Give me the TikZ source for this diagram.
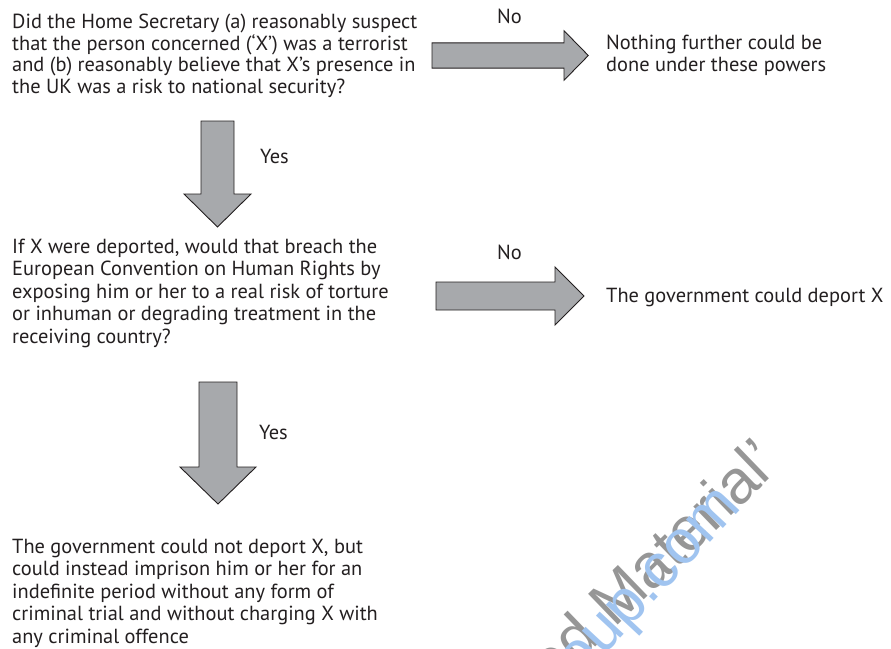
\documentclass[tikz,border=0pt]{standalone}
\usepackage{fontspec}
\setmainfont{PT Sans}
\newfontfamily\wmfont{Liberation Sans}
\definecolor{ink}{RGB}{35,31,32}
\definecolor{arrowfill}{RGB}{167,169,172}
\definecolor{wmgray}{RGB}{150,150,150}
\definecolor{wmblue}{RGB}{160,196,240}
\begin{document}
\begin{tikzpicture}[x=1pt,y=-1pt,
  txt/.style={inner sep=0pt, align=left, text=ink, anchor=base west,
    font=\fontsize{20.4}{22.2}\selectfont},
  blockarrow/.style={fill=arrowfill, draw=ink, line width=0.9pt, line join=miter},
  wm/.style={inner sep=0pt, anchor=base east}]
\useasboundingbox (0,0) rectangle (891,648);
\begin{scope}
\clip (0,0) rectangle (891,648);

% watermark
\node[wm, text=wmgray, rotate=44, font=\wmfont\fontsize{62}{62}\selectfont] (wm1) at (783,466) {Copyrighted Material’};
\node[wm, text=wmblue, rotate=47, font=\wmfont\fontsize{62}{62}\selectfont] (wm2) at (742.6,507.2) {www.oup.com};

% questions and outcomes (anchor = baseline of last line)
\node[txt, font=\fontsize{20.4}{21.6}\selectfont] (q1) at (12,93.3) {Did the Home Secretary (a) reasonably suspect\\that the person concerned (‘X’) was a terrorist\\and (b) reasonably believe that X’s presence in\\the UK was a risk to national security?};
\node[txt] (r1) at (606,71.7) {Nothing further could be\\done under these powers};
\node[txt, font=\fontsize{20.4}{22.4}\selectfont] (q2) at (12,343) {If X were deported, would that breach the\\European Convention on Human Rights by\\exposing him or her to a real risk of torture\\or inhuman or degrading treatment in the\\receiving country?};
\node[txt] (r2) at (606,302) {The government could deport X};
\node[txt, font=\fontsize{20.4}{22.5}\selectfont] (q3) at (12,643) {The government could not deport X, but\\could instead imprison him or her for an\\indefinite period without any form of\\criminal trial and without charging X with\\any criminal offence};

% labels
\node[txt] (no1) at (497,23.3) {No};
\node[txt] (no2) at (497,259) {No};
\node[txt] (yes1) at (260,163) {Yes};
\node[txt] (yes2) at (259,439) {Yes};

% block arrows
\path[blockarrow] (432,42.9) -- (564,42.9) -- (564,30.7) -- (588.3,55.5) -- (564,80.3) -- (564,68.1) -- (432,68.1) -- cycle;
\path[blockarrow] (436,282) -- (555,282) -- (555,267) -- (584,296) -- (555,325) -- (555,310) -- (436,310) -- cycle;
\path[blockarrow] (201,121) -- (234,121) -- (234,194) -- (251,194) -- (217.5,227) -- (184,194) -- (201,194) -- cycle;
\path[blockarrow] (199,382) -- (237,382) -- (237,467) -- (256,467) -- (218,504) -- (180,467) -- (199,467) -- cycle;
\end{scope}
\end{tikzpicture}
\end{document}
